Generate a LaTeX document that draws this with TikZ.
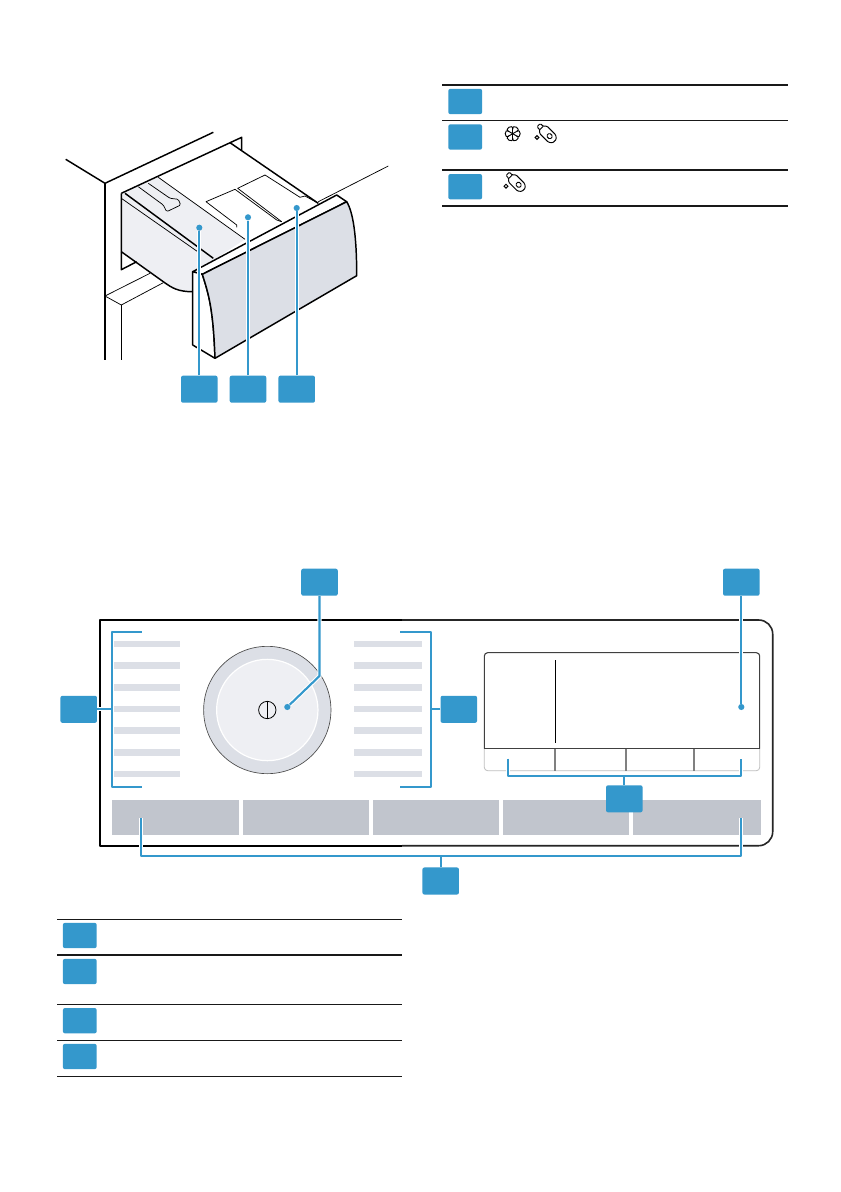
\documentclass[tikz,border=0pt]{standalone}
\usepackage{tikz}
\definecolor{tagblue}{HTML}{3498CC}
\definecolor{palegrey}{HTML}{EEEFF3}
\definecolor{stripegrey}{HTML}{DCDFE6}
\definecolor{keygrey}{HTML}{C1C5CD}
\tikzset{
  tag/.style={rectangle, fill=tagblue, rounded corners=1.5pt, inner sep=0pt, minimum width=27.4pt, minimum height=20.3pt},
  rowtag/.style={tag, minimum width=25.3pt, minimum height=19pt},
  dot/.style={circle, fill=tagblue, inner sep=0pt, minimum size=4.6pt},
  lead/.style={draw=tagblue, line width=1.6pt, preaction={draw=white, line width=3.2pt}},
  lead plain/.style={draw=tagblue, line width=1.6pt},
  edge thick/.style={black, line width=1.1pt, line join=round},
  edge thin/.style={black, line width=0.55pt, line join=round},
  rule/.style={black!90, line width=1.15pt},
  icon/.style={black, line width=0.7pt},
  flower/.pic={
    \foreach \a in {0,60,...,300} {
      \draw[icon] (\a-30:4.4) .. controls (\a-34:10.5) and (\a+34:10.5) .. (\a+30:4.4);
      \draw[icon] (0,0) -- (\a+30:4.4);
    }
  },
  bottle/.pic={
    \draw[icon] (-10.5,3.5) circle (1.9);
    \begin{scope}[rotate=-45]
      \draw[icon, rounded corners=0.8pt] (-12.5,-2.4) -- (-8.5,-2.4) -- (-6,-5.2) -- (6.5,-5.2) -- (10,-2.5) -- (10,2.5) -- (6.5,5.2) -- (-6,5.2) -- (-8.5,2.4) -- (-12.5,2.4) -- cycle;
      \draw[icon] (-8.5,-2.4) -- (-8.5,2.4);
      \draw[icon, rounded corners=1pt] (0.5,-2.2) rectangle (5.5,2.2);
    \end{scope}
  }
}
\begin{document}
\begin{tikzpicture}[x=0.75pt, y=-0.75pt]
  \path[use as bounding box, fill=white] (0,0) rectangle (840,1192);

  % drawer
  \fill[palegrey] (121.3,193.3) -- (121.3,251.7) -- (163.3,281.7) .. controls (172,288) and (178,291.7) .. (192.7,291.7) -- (192.7,271.7) -- (213.3,260) -- (245,239.3) -- (158.3,177.3) -- cycle;
  \draw[edge thin] (105,296) -- (150,273.3);
  \draw[edge thin] (105,296) -- (121.3,305) -- (163.3,282.7);
  \draw[edge thick] (65.7,159.3) -- (105,183.3) -- (213.3,132.3);
  \draw[edge thick] (105,183.3) -- (105,360);
  \draw[edge thick] (121.3,193.3) -- (121.3,269.7) -- (136.7,261.7);
  \draw[edge thick] (121.3,305) -- (121.3,360);
  \draw[edge thick] (121.3,193.3) -- (241.7,137.3) -- (241.7,150);
  \draw[edge thick] (230,142.7) -- (318.3,203.3);
  \draw[edge thick] (121.3,251.7) -- (163.3,281.7) .. controls (172,288) and (178,291.7) .. (192.7,291.7);
  \draw[edge thick] (125,193.3) -- (213.3,258.3);
  \draw[edge thin] (121.3,198.3) -- (200,253.3);
  \draw[edge thin] (158.3,177.3) -- (245,239.3);
  \draw[edge thin] (318.3,201.7) -- (388.3,166);
  % handle
  \draw[edge thin, fill=palegrey, rounded corners=1pt] (138.3,186.7) -- (163.3,205) -- (166.7,211.7) -- (180.7,205) -- (178.3,199.3) -- (170,198.3) -- (148.3,183.3);
  % flaps
  \draw[edge thin] (236.7,227.3) -- (236.7,225) -- (206,201.7) -- (235,189.3) -- (276.7,220) -- (281.7,221.7);
  \draw[edge thin] (281.7,221.7) -- (237.7,188.3) -- (265,175) -- (300,197.3) -- (305,196) -- (318.3,203.3);
  % front of the drawer
  \draw[edge thick, fill=white] (192.7,271.7) -- (336.7,195) -- (346.7,201.7) -- (202.3,274.3) -- cycle;
  \draw[edge thick, fill=white] (192.7,271.7) -- (202.3,274.3) .. controls (209,295) and (213.3,310) .. (215,358.3) -- (192.7,345) -- cycle;
  \draw[edge thick, fill=stripegrey] (202.3,274.3) -- (346.7,201.7) .. controls (353,212) and (356.7,235) .. (356.7,275.7) -- (215,358.3) .. controls (213.3,310) and (209,295) .. (202.3,274.3) -- cycle;

  % table at the top
  \foreach \y in {85,120.7,170,206}
    \draw[rule] (442.3,\y) -- (787.7,\y);
  \foreach \i/\y in {1/101.5, 2/137, 3/186.7}
    \node [rowtag] (row\i) at (465.2,\y) {};
  \pic at (512.7,133.7) {flower};
  \pic at (547.5,134) {bottle};
  \pic at (516.5,182.7) {bottle};

  % tags and dots of the drawer
  \foreach \i/\x/\y in {1/199.3/227.7, 2/248/217.3, 3/296.7/208} {
    \node [tag] (tag\i) at (\x,389.2) {};
    \node [dot] (dot\i) at (\x,\y) {};
    \draw[lead] (tag\i) -- (dot\i);
  }

  % panel
  \draw[black, line width=1.5pt, line join=round] (402,620) -- (100,620) -- (100,845.7) -- (402,845.7);
  \draw[black!85, line width=1.2pt] (402,620) -- (758.7,620) arc (-90:0:14) -- (772.7,831.7) arc (0:90:14) -- (402,845.7);

  % programme stripes
  \foreach \y in {644,665.3,687.3,709,730.3,752.3,774} {
    \fill[stripegrey] (114,\y-3.2) rectangle (180,\y+3.2);
    \fill[stripegrey] (354,\y-3.2) rectangle (422,\y+3.2);
  }

  % dial
  \node [circle, draw=black!70, line width=0.5pt, fill=stripegrey, inner sep=0pt, minimum size=95.5pt] (ring) at (267.3,710) {};
  \node [circle, draw=white, line width=0.9pt, fill=palegrey, inner sep=0pt, minimum size=76pt] (knob) at (267.3,710) {};
  \node [circle, draw=black, line width=0.6pt, inner sep=0pt, minimum size=13pt] (power) at (267.3,710) {};
  \draw[black, line width=0.6pt] (power.north) -- (power.south);

  % keys
  \foreach \i/\a/\b in {1/111.7/239, 2/243/369, 3/373/499, 4/503/628.7, 5/632.7/761}
    \fill[keygrey] (\a,800) rectangle (\b,835.3);

  % display
  \draw[black!75, line width=0.8pt, rounded corners=2.5pt] (484.3,748.7) -- (484.3,652.7) -- (759.7,652.7) -- (759.7,748.7);
  \draw[black!25, line width=0.6pt, rounded corners=2.5pt] (484.3,748.7) -- (484.3,770.7) -- (759.7,770.7) -- (759.7,748.7);
  \draw[black!75, line width=1pt] (484.3,748.7) -- (759.7,748.7);
  \draw[black, line width=0.6pt] (555.3,660) -- (555.3,742.7);
  \foreach \x in {555,626,694}
    \draw[black!50, line width=1pt] (\x,748.7) -- (\x,770.7);

  % tags and leaders of the panel
  \node [tag] (dial) at (319.5,582.2) {};
  \node [tag] (shown) at (741.3,582.2) {};
  \node [tag] (left) at (78.7,709.3) {};
  \node [tag] (right) at (458.8,709.3) {};
  \node [tag] (soft) at (624.3,798.8) {};
  \node [tag] (main) at (440.7,881) {};
  \node [dot] (dialdot) at (287.3,707) {};
  \node [dot] (showndot) at (741.3,707) {};
  \coordinate (dialbend) at (319.5,676);
  \coordinate (leftmid) at (112,709.3);
  \coordinate (rightmid) at (431,709.3);
  \coordinate (softa) at (507.7,758.7);
  \coordinate (softb) at (741,758.7);
  \coordinate (softmid) at (624.3,776);
  \coordinate (maina) at (141,818.3);
  \coordinate (mainb) at (741,818.3);
  \coordinate (mainmid) at (440.7,855.7);

  \draw[lead, line join=round] (dial) -- (dialbend) -- (dialdot);
  \draw[lead] (shown) -- (showndot);
  \draw[lead] (left) -- (leftmid);
  \draw[lead plain] (right) -- (rightmid);
  \draw[lead plain, line join=round] (141.7,631.7) -- (112,631.7) -- (112,787) -- (141.7,787);
  \draw[lead plain, line join=round] (400,631.7) -- (431,631.7) -- (431,787) -- (400,787);
  \draw[lead, line join=round] (softa) |- (softb |- softmid) -- (softb);
  \draw[lead plain] (soft) -- (softmid);
  \draw[lead, line join=round] (maina) |- (mainb |- mainmid) -- (mainb);
  \draw[lead plain] (main) -- (mainmid);

  % table at the bottom
  \foreach \y in {919.3,1004.3,1040.3,1076.3}
    \draw[rule, line width=0.8pt] (57,\y) -- (401.7,\y);
  \draw[rule, line width=1.3pt] (57,954.7) -- (401.7,954.7);
  \foreach \i/\y in {1/935.5, 2/971.5, 3/1020.7, 4/1056.5}
    \node [rowtag] (low\i) at (79.8,\y) {};

\end{tikzpicture}
\end{document}
